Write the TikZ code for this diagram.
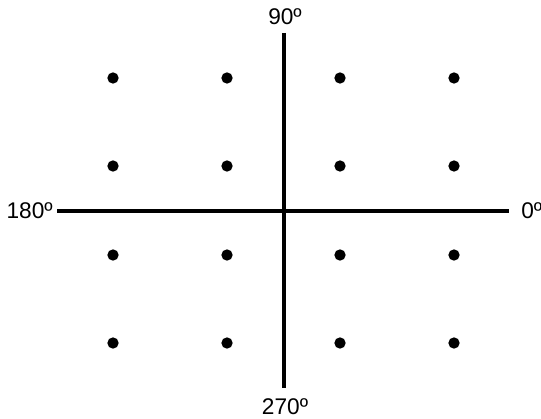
\documentclass[tikz,border=0pt]{standalone}
\usepackage{fontspec}
\setmainfont{Liberation Sans}
\usetikzlibrary{positioning}
\tikzset{
  % axis line
  axis/.style={line width=2.4pt,black},
  % constellation point
  pt/.style={circle,fill=black,inner sep=0pt,minimum size=8.5pt},
  % angle label
  lbl/.style={font=\fontsize{17}{19}\selectfont,inner sep=0pt}
}
\begin{document}
\begin{tikzpicture}[x=0.75pt,y=0.75pt]
  \useasboundingbox (0,0) rectangle (541,418);
  % axes
  \coordinate (w) at (57,207);
  \coordinate (e) at (509,207);
  \coordinate (n) at (284,385);
  \coordinate (s) at (284,30);
  \draw[axis] (w) -- (e);
  \draw[axis] (n) -- (s);
  \node[lbl,anchor=east] (l180) at (53,207) {180º};
  \node[lbl,anchor=west] (l0) at (521,207) {0º};
  \node[lbl] (l90) at (285,401) {90º};
  \node[lbl] (l270) at (285,11) {270º};
  % points
  \foreach \px [count=\i] in {113,227,340,454}
    \foreach \py [count=\j] in {340,252,163,75}
      \node[pt] (d\i\j) at (\px,\py) {};
\end{tikzpicture}
\end{document}
